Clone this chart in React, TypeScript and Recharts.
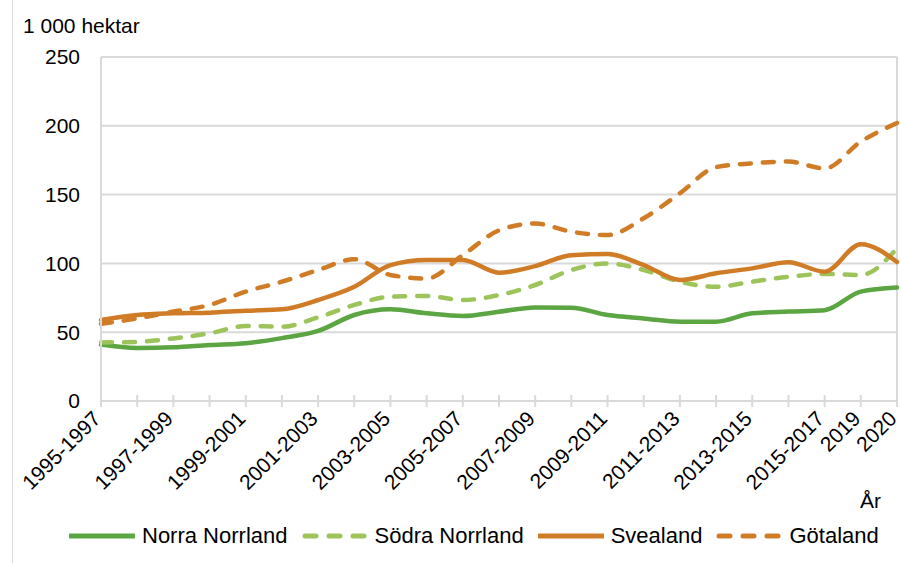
import { LineChart, Line, XAxis, YAxis, CartesianGrid, ReferenceLine } from "recharts";

const categories = [
  "1995-1997", "1996-1998", "1997-1999", "1998-2000", "1999-2001", "2000-2002",
  "2001-2003", "2002-2004", "2003-2005", "2004-2006", "2005-2007", "2006-2008",
  "2007-2009", "2008-2010", "2009-2011", "2010-2012", "2011-2013", "2012-2014",
  "2013-2015", "2014-2016", "2015-2017", "2019", "2020",
];

const norraNorrland = [41, 38.5, 39, 40.7, 42, 45.7, 50.9, 62.5, 66.6, 63.7, 61.8, 64.9, 68, 67.8, 62.5, 60, 57.6, 57.6, 63.7, 65, 66, 79.5, 82.4];
const sodraNorrland = [42.6, 43, 45.5, 49.2, 54.5, 54, 60.8, 69.8, 75.8, 76.3, 73.4, 77, 84.3, 95.2, 100, 95.2, 86.7, 83, 86.7, 90.3, 92.3, 91.6, 111];
const svealand = [58.9, 62.5, 63.7, 64.2, 65.6, 66.6, 73.4, 83, 98.8, 102.5, 102.5, 93.2, 98, 106, 106.8, 98.8, 88, 92.8, 96.4, 100.8, 94, 114, 101];
const gotaland = [56, 60, 65, 69.8, 79.5, 86.7, 95.2, 103, 91.6, 89, 106, 124, 129, 123, 120.6, 132.8, 151, 170, 172.7, 174, 169, 188.5, 202];

const yTicks = [0, 50, 100, 150, 200, 250];

const FONT = '"Liberation Sans", Arial, sans-serif';
const GRID = "#d9d9d9";
const GREEN = "#5ba543";
const LIGHT_GREEN = "#9cc45b";
const ORANGE = "#d07c27";

const series = [
  { key: "norra", name: "Norra Norrland", color: GREEN, dashed: false },
  { key: "sodra", name: "Södra Norrland", color: LIGHT_GREEN, dashed: true },
  { key: "svea", name: "Svealand", color: ORANGE, dashed: false },
  { key: "gota", name: "Götaland", color: ORANGE, dashed: true },
];

const chartData = categories.map((label, i) => ({
  label,
  norra: norraNorrland[i],
  sodra: sodraNorrland[i],
  svea: svealand[i],
  gota: gotaland[i],
}));

interface TickProps {
  x?: number;
  y?: number;
  index?: number;
  payload?: { value: string; index: number };
}

function CategoryTick({ x = 0, y = 0, payload, index }: TickProps) {
  const i = payload?.index ?? index ?? 0;
  // every second label, plus the two single years at the end
  const showLabel = i % 2 === 0 || i >= categories.length - 2;
  const tx = x + 1;
  const ty = y + 19;
  return (
    <g>
      <line x1={x} x2={x} y1={y - 6} y2={y + 6} stroke={GRID} strokeWidth={2} />
      {showLabel && (
        <text
          x={tx}
          y={ty}
          transform={`rotate(-45, ${tx}, ${ty})`}
          textAnchor="end"
          fontSize={21}
          fontFamily={FONT}
          fill="#000"
        >
          {payload?.value}
        </text>
      )}
    </g>
  );
}

function LegendSwatch({ color, dashed }: { color: string; dashed: boolean }) {
  return (
    <svg width={66} height={10} style={{ display: "block" }}>
      <line
        x1={dashed ? 3 : 1}
        x2={dashed ? 63 : 65}
        y1={5}
        y2={5}
        stroke={color}
        strokeWidth={5}
        strokeLinecap="round"
        strokeDasharray={dashed ? "11 13" : undefined}
      />
    </svg>
  );
}

export default function App() {
  return (
    <div
      style={{
        position: "absolute",
        left: 0,
        top: 0,
        width: 901,
        height: 563,
        background: "#fff",
        fontFamily: FONT,
        overflow: "hidden",
      }}
    >
      <div style={{ position: "absolute", left: 12, top: 0, width: 1, height: 563, background: GRID }} />

      <div style={{ position: "absolute", left: 23, top: 15, fontSize: 21, lineHeight: 1, color: "#000" }}>
        1 000 hektar
      </div>

      <LineChart
        width={901}
        height={563}
        data={chartData}
        margin={{ top: 57, right: 4, bottom: 0, left: 0 }}
      >
        <CartesianGrid vertical={false} stroke={GRID} strokeWidth={2} />
        <XAxis
          dataKey="label"
          interval={0}
          height={162}
          tickSize={0}
          tickMargin={0}
          tickLine={false}
          axisLine={{ stroke: GRID, strokeWidth: 2 }}
          tick={<CategoryTick />}
        />
        <YAxis
          domain={[0, 250]}
          ticks={yTicks}
          width={101}
          axisLine={{ stroke: GRID, strokeWidth: 2 }}
          tickLine={false}
          tickSize={0}
          tickMargin={21}
          tick={{ fontSize: 21, fontFamily: FONT, fill: "#000" }}
        />
        <ReferenceLine x={categories[categories.length - 1]} stroke={GRID} strokeWidth={2} />
        {series.map((s) => (
          <Line
            key={s.key}
            type="monotone"
            dataKey={s.key}
            name={s.name}
            stroke={s.color}
            strokeWidth={4.5}
            strokeDasharray={s.dashed ? "11 12" : undefined}
            strokeLinecap="round"
            dot={false}
            activeDot={false}
            isAnimationActive={false}
          />
        ))}
      </LineChart>

      <div style={{ position: "absolute", left: 860, top: 490, fontSize: 21, lineHeight: 1, color: "#000" }}>
        År
      </div>

      <div
        style={{
          position: "absolute",
          left: 69,
          top: 525,
          display: "flex",
          alignItems: "center",
          fontSize: 22,
          lineHeight: 1,
          color: "#000",
          whiteSpace: "nowrap",
        }}
      >
        {series.map((s) => (
          <div key={s.key} style={{ display: "flex", alignItems: "center", marginRight: 14 }}>
            <LegendSwatch color={s.color} dashed={s.dashed} />
            <span style={{ marginLeft: 7 }}>{s.name}</span>
          </div>
        ))}
      </div>
    </div>
  );
}
